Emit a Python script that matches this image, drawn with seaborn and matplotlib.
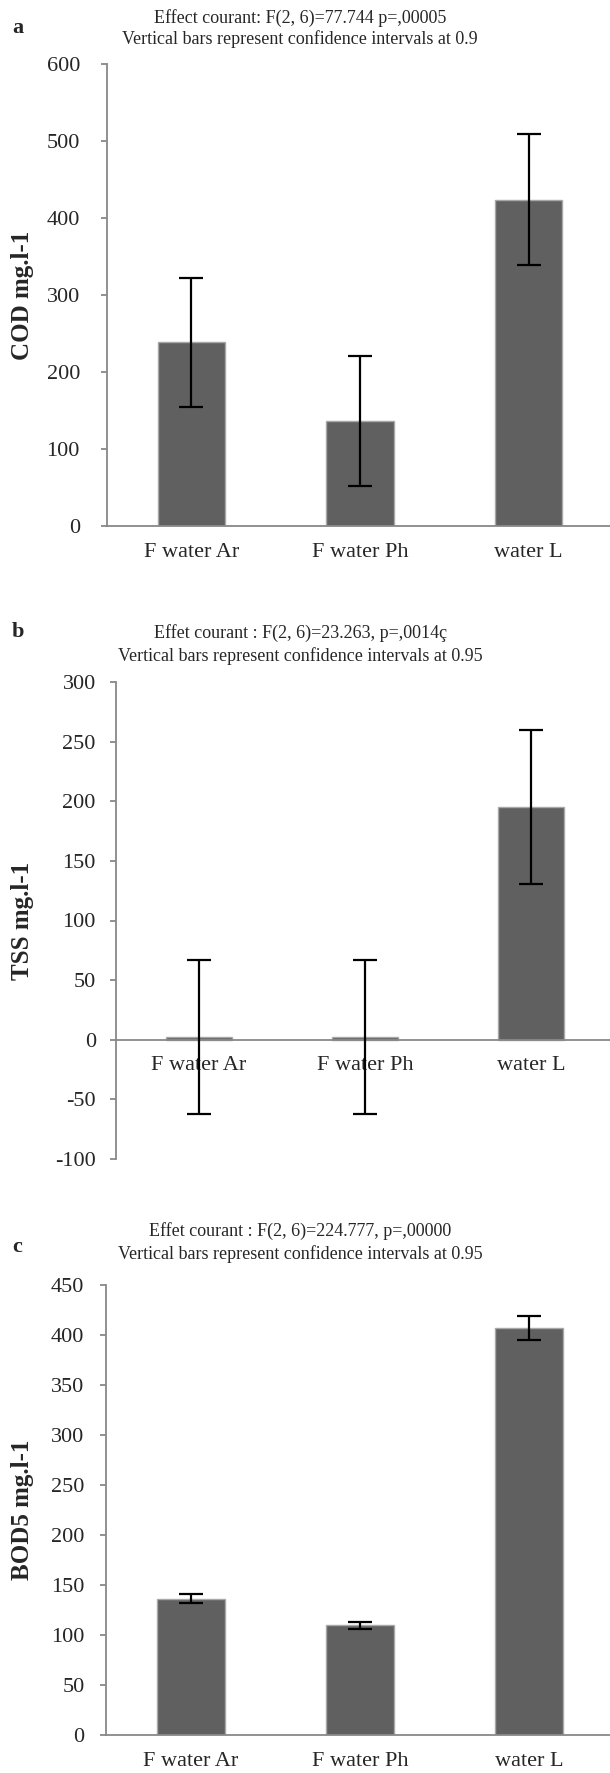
import numpy as np
import pandas as pd
import seaborn as sns
import matplotlib.pyplot as plt

W, H = 610, 1773

groups = ['F water Ar', 'F water Ph', 'water L']

cod_mean = [238.5, 136.5, 424]
cod_ci = [84, 84, 84.5]

tss_mean = [2, 2, 195.5]
tss_ci = [64.5, 64.5, 64.5]

bod_mean = [136.5, 110, 407]
bod_ci = [4.7, 3.5, 12.3]

titles = [
    ('Effect courant: F(2, 6)=77.744 p=,00005',
     'Vertical bars represent confidence intervals at 0.9'),
    ('Effet courant : F(2, 6)=23.263, p=,0014ç',
     'Vertical bars represent confidence intervals at 0.95'),
    ('Effet courant : F(2, 6)=224.777, p=,00000',
     'Vertical bars represent confidence intervals at 0.95'),
]
ylabels = ['COD mg.l-1', 'TSS mg.l-1', 'BOD5 mg.l-1']
letters = ['a', 'b', 'c']

sns.set_style('white')
plt.rcParams['font.family'] = ['Liberation Serif', 'DejaVu Serif']
plt.rcParams['axes.unicode_minus'] = False

bar_col = '#606060'
axis_col = '#888888'


def fy(px):
    return 1 - px / H


def panel(fig, rect, means, cis, ylim, yticks, ylabel, ypad, zero_spine=False):
    # rect in pixels: left, right, top (ylim max), bottom (ylim min)
    l, r, t, b = rect
    ax = fig.add_axes([l / W, fy(b), (r - l) / W, (b - t) / H])
    df = pd.DataFrame({'group': groups, 'val': means})
    sns.barplot(data=df, x='group', y='val', color=bar_col, saturation=1,
                width=0.4, edgecolor='#a8a8a8', linewidth=1.0,
                errorbar=None, ax=ax)
    ax.errorbar(np.arange(len(groups)), means, yerr=cis, fmt='none',
                ecolor='black', elinewidth=1.6, capsize=8.5, capthick=1.6,
                zorder=5)
    ax.set_xlim(-0.5, 2.5)
    ax.set_ylim(*ylim)
    ax.set_yticks(yticks)
    ax.set_xlabel('')
    ax.set_ylabel('')
    for s in ['top', 'right']:
        ax.spines[s].set_visible(False)
    for s in ['left', 'bottom']:
        ax.spines[s].set_color(axis_col)
        ax.spines[s].set_linewidth(1.3)
    if zero_spine:
        ax.spines['bottom'].set_position(('data', 0))
    ax.tick_params(axis='y', direction='out', length=4.5, width=1.3,
                   color=axis_col, labelsize=16, pad=ypad, left=True)
    ax.tick_params(axis='x', length=0, labelsize=16, pad=12)
    ax.patch.set_alpha(0)
    fig.text(22 / W, fy((t + b) / 2), ylabel, rotation=90, ha='center',
             va='center', fontsize=18, fontweight='bold')
    return ax


fig = plt.figure(figsize=(W / 100, H / 100), dpi=100)

panel(fig, (107, 613, 64, 526), cod_mean, cod_ci, (0, 600),
      range(0, 601, 100), ylabels[0], 15)
panel(fig, (116, 614, 682, 1159), tss_mean, tss_ci, (-100, 300),
      range(-100, 301, 50), ylabels[1], 10, zero_spine=True)
panel(fig, (106, 614, 1285, 1735), bod_mean, bod_ci, (0, 450),
      range(0, 451, 50), ylabels[2], 11)

title_y = [(18, 39, 28), (633, 656, 632), (1231, 1254, 1247)]
for (l1, l2), (y1, y2, yl), let in zip(titles, title_y, letters):
    fig.text(0.492, fy(y1), l1, ha='center', va='center', fontsize=13)
    fig.text(0.492, fy(y2), l2, ha='center', va='center', fontsize=13)
    fig.text(12 / W, fy(yl), let, ha='left', va='center', fontsize=16,
             fontweight='bold')

fig.savefig('out.png', dpi=100)
